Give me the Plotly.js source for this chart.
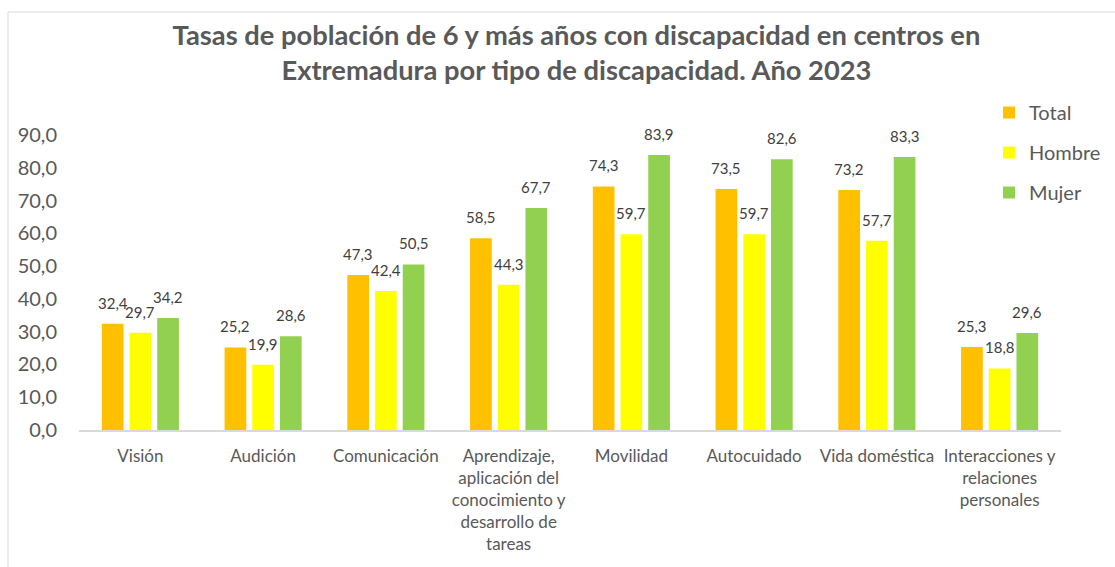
<!DOCTYPE html>
<html>
<head>
<meta charset="utf-8">
<script src="https://cdn.plot.ly/plotly-3.0.1.min.js"></script>
<style>
html,body{margin:0;padding:0;background:#fff;}
#chart{width:1115px;height:567px;}
</style>
</head>
<body>
<div id="chart"></div>
<script>
const categories = ["Visión","Audición","Comunicación","Aprendizaje,<br>aplicación del<br>conocimiento y<br>desarrollo de<br>tareas","Movilidad","Autocuidado","Vida doméstica","Interacciones y<br>relaciones<br>personales"];
const seriesNames = ["Total","Hombre","Mujer"];
const total  = [32.4, 25.2, 47.3, 58.5, 74.3, 73.5, 73.2, 25.3];
const hombre = [29.7, 19.9, 42.4, 44.3, 59.7, 59.7, 57.7, 18.8];
const mujer  = [34.2, 28.6, 50.5, 67.7, 83.9, 82.6, 83.3, 29.6];
const colors = ["#FFC000","#FFFF00","#92D050"];

const FONT = "Lato, 'Open Sans', sans-serif";
const L = 79, R = 54, T = 135, B = 137, W = 1115, H = 567;
const bargap = 0.323, bargroupgap = 0.217;

const seriesVals = [total, hombre, mujer];
const traces = seriesVals.map((vals, i) => ({
  type: "bar",
  name: seriesNames[i],
  x: categories,
  y: vals,
  marker: {color: colors[i]},
  legendgroup: "g" + i,
  hoverinfo: "x+y"
}));

const pw = W - L - R;
const ph = H - T - B;
const catW = pw / categories.length;
const slot = catW * (1 - bargap) / 3;
const annotations = [];
seriesVals.forEach((vals, i) => {
  vals.forEach((v, j) => {
    annotations.push({
      x: categories[j], y: v, xref: "x", yref: "y",
      text: v.toFixed(1).replace(".", ","),
      showarrow: false, xanchor: "center", yanchor: "bottom",
      xshift: (i - 1) * slot, yshift: 10,
      font: {family: FONT, size: 15, color: "#404040"}
    });
  });
});

const layout = {
  width: W, height: H,
  margin: {l: L, r: R, t: T, b: B, autoexpand: false},
  paper_bgcolor: "#fff", plot_bgcolor: "#fff",
  separators: ",.",
  barmode: "group",
  bargap: bargap, bargroupgap: bargroupgap,
  title: {
    text: "<b>Tasas de población de 6 y más años con discapacidad en centros en<br>Extremadura por tipo de discapacidad. Año 2023</b>",
    font: {family: FONT, size: 27.3, color: "#595959"},
    x: 0.517, xref: "container", xanchor: "center",
    y: 1 - 45/567, yref: "container", yanchor: "top"
  },
  xaxis: {
    showline: true, linecolor: "#D9D9D9", linewidth: 1.5,
    showgrid: false, ticks: "", zeroline: false,
    tickfont: {family: FONT, size: 17, color: "#595959"},
    ticklabelstandoff: 10, fixedrange: true
  },
  yaxis: {
    range: [0, 90], dtick: 10, tickformat: ".1f",
    showgrid: false, zeroline: false, showline: false, ticks: "",
    tickfont: {family: FONT, size: 20, color: "#595959"},
    ticklabelstandoff: 21, fixedrange: true
  },
  legend: {
    x: (989 - L) / pw, xref: "paper", xanchor: "left",
    y: 1 + (T - 93) / ph, yref: "paper", yanchor: "top",
    font: {family: FONT, size: 20, color: "#595959"},
    traceorder: "grouped", tracegroupgap: 11,
    bgcolor: "rgba(0,0,0,0)"
  },
  annotations: annotations,
  shapes: [{
    type: "rect", xref: "paper", yref: "paper",
    x0: (8 - L) / pw, x1: 1.2, y0: -1, y1: 1 + (T - 12) / ph,
    line: {color: "#D9D9D9", width: 1}, fillcolor: "rgba(0,0,0,0)", layer: "below"
  }],
  showlegend: true
};

Plotly.newPlot("chart", traces, layout, {displayModeBar: false, staticPlot: true});
</script>
</body>
</html>
